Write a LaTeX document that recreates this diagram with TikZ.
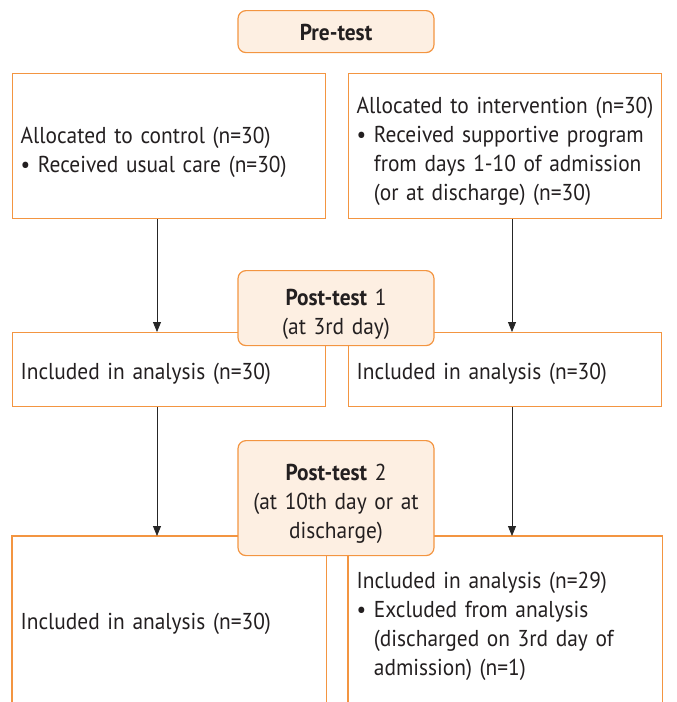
\documentclass[tikz,border=0pt]{standalone}
\usepackage{fontspec}
\setmainfont[FakeStretch=0.93]{PT Sans}
\usetikzlibrary{arrows.meta}

\definecolor{boxorange}{HTML}{F39541}
\definecolor{boxfill}{HTML}{FDEFE2}
\definecolor{txtgray}{HTML}{231F20}

\newcommand{\bulitem}[1]{\begin{tabular}[t]{@{}l@{}}#1\end{tabular}}
\newcommand{\dropht}{28pt}

\tikzset{
    textdrop/.store in=\dropht,
    armbox/.style={draw=boxorange, line width=1.2pt, inner xsep=8pt, inner ysep=0pt,
        text width=297pt, align=left, anchor=north west, text=txtgray,
        font=\fontsize{23}{29}\selectfont, textdrop=28pt,
        execute at begin node={\rule{0pt}{\dropht}}},
    openbox/.style={armbox, draw=none},
    stagebox/.style={draw=boxorange, fill=boxfill, rounded corners=8pt, line width=1.2pt,
        inner xsep=8pt, inner ysep=0pt, text width=180pt, align=center, anchor=north,
        text=txtgray, font=\fontsize{23}{29}\selectfont, textdrop=28pt,
        execute at begin node={\rule{0pt}{\dropht}}},
    flowarrow/.style={-{Triangle[width=8pt,length=10pt]}, line width=0.8pt, black!85},
}

\begin{document}
\begin{tikzpicture}[x=1pt, y=-1pt]

    \useasboundingbox (0,0) rectangle (677,702);

    % allocation
    \node[armbox, minimum height=145pt] (ctrl) at (12,73)
        {Allocated to control (n=30)\\
         • Received usual care (n=30)};
    \node[armbox, minimum height=145pt, textdrop=30pt] (intv) at (348,73)
        {Allocated to intervention (n=30)\\
         • \bulitem{Received supportive program\\from days 1-10 of admission\\(or at discharge) (n=30)}};

    % first follow-up
    \node[armbox, minimum height=74pt, textdrop=24pt] (incL1) at (12,332) {Included in analysis (n=30)};
    \node[armbox, minimum height=74pt, textdrop=24pt] (incR1) at (348,332) {Included in analysis (n=30)};

    % second follow-up (cut off at the bottom)
    \node[openbox, minimum height=166pt, textdrop=24pt] (incL2) at (12,536) {Included in analysis (n=30)};
    \node[openbox, minimum height=166pt, textdrop=34pt] (incR2) at (348,536)
        {Included in analysis (n=29)\\
         • \bulitem{Excluded from analysis\\(discharged on 3rd day of\\admission) (n=1)}};
    \draw[boxorange, line width=1.2pt] (incL2.south west) -- (incL2.north west)
        -- (incL2.north east) -- (incL2.south east);
    \draw[boxorange, line width=1.2pt] (incR2.south west) -- (incR2.north west)
        -- (incR2.north east) -- (incR2.south east);

    % arrows
    \coordinate (aL) at (157,0);
    \coordinate (aR) at (512,0);
    \draw[flowarrow] (aL |- ctrl.south) -- (aL |- incL1.north);
    \draw[flowarrow] (aR |- intv.south) -- (aR |- incR1.north);
    \draw[flowarrow] (aL |- incL1.south) -- (aL |- incL2.north);
    \draw[flowarrow] (aR |- incR1.south) -- (aR |- incR2.north);

    % stages
    \node[stagebox, minimum height=42pt, textdrop=18pt] (pre) at (336,10) {\textbf{Pre-test}};
    \node[stagebox, minimum height=75pt] (post1) at (336,270)
        {\textbf{Post-test} 1\\(at 3rd day)};
    \node[stagebox, minimum height=115pt] (post2) at (336,440)
        {\textbf{Post-test} 2\\(at 10th day or at\\discharge)};

\end{tikzpicture}
\end{document}
